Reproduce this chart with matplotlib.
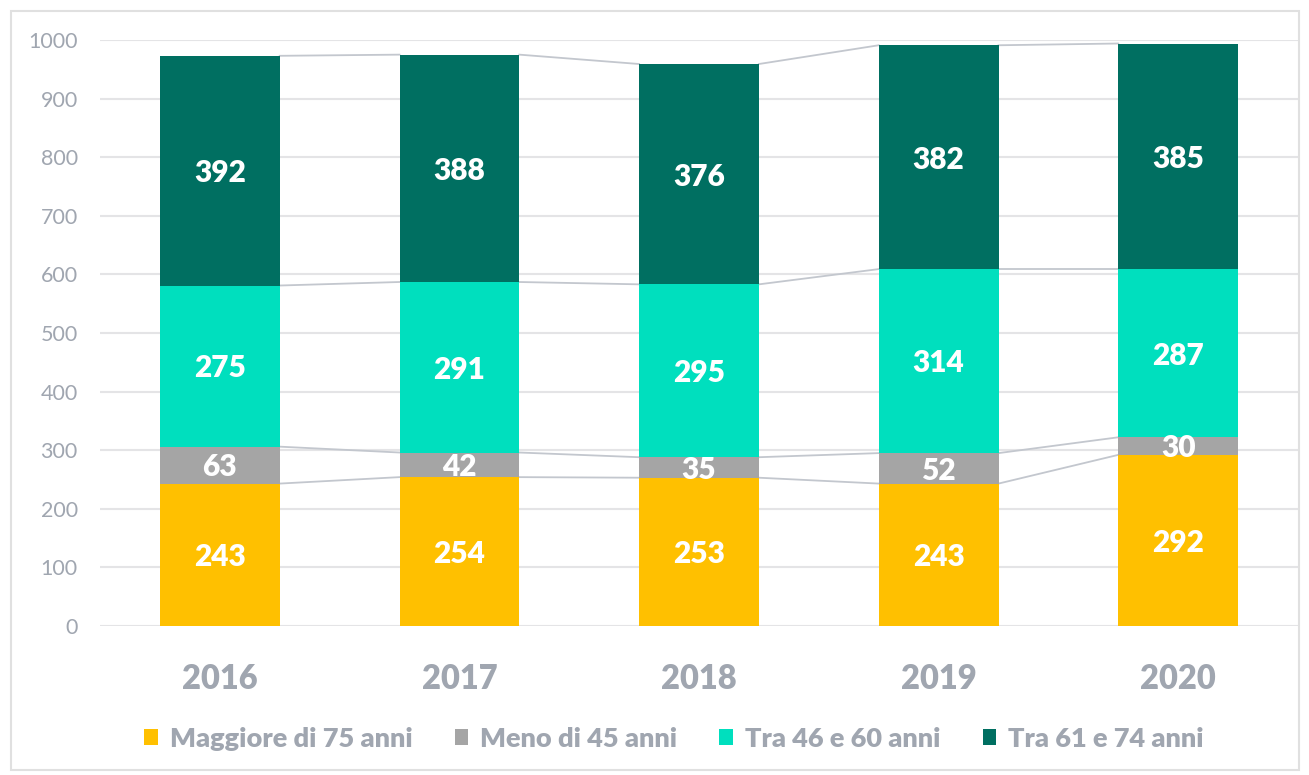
import matplotlib.pyplot as plt
from matplotlib.patches import Rectangle
import numpy as np

years = ["2016", "2017", "2018", "2019", "2020"]
series_names = ["Maggiore di 75 anni", "Meno di 45 anni", "Tra 46 e 60 anni", "Tra 61 e 74 anni"]
maggiore_75 = [243, 254, 253, 243, 292]
meno_45 = [63, 42, 35, 52, 30]
tra_46_60 = [275, 291, 295, 314, 287]
tra_61_74 = [392, 388, 376, 382, 385]
colors = ["#FFC000", "#A5A5A5", "#00DFBE", "#006F61"]

plt.rcParams["font.family"] = ["Lato", "DejaVu Sans"]
grey_txt = "#A0A6B0"

fig = plt.figure(figsize=(13.09, 7.75), dpi=100)
ax = fig.add_axes([0.0764, 0.1923, 0.9152, 0.7561])

x = np.arange(len(years))
width = 0.5
bottom = np.zeros(len(years))
tops = []
handles = []
for vals, col, name in zip([maggiore_75, meno_45, tra_46_60, tra_61_74], colors, series_names):
    vals = np.array(vals, dtype=float)
    b = ax.bar(x, vals, width, bottom=bottom, color=col, label=name, zorder=3)
    handles.append(b)
    for xi, v, bt in zip(x, vals, bottom):
        ax.text(xi, bt + v / 2 - 4, f"{int(v)}", ha="center", va="center",
                color="white", fontsize=21.5, fontweight="heavy", zorder=4)
    bottom = bottom + vals
    tops.append(bottom.copy())

# series lines between bars
for t in tops:
    for i in range(len(years) - 1):
        ax.plot([x[i] + width / 2, x[i + 1] - width / 2], [t[i], t[i + 1]],
                color="#C3C7CE", lw=1.3, zorder=2)

ax.set_xlim(-0.5, len(years) - 0.5)
ax.set_ylim(0, 1000)
ax.set_yticks(range(0, 1001, 100))
ax.set_xticks(x)
ax.set_xticklabels(years, fontsize=23.5, fontweight="heavy", color=grey_txt)
ax.tick_params(axis="x", length=0, pad=27)
ax.tick_params(axis="y", length=0, pad=16, labelsize=15.5, labelcolor=grey_txt)
ax.grid(axis="y", color="#E4E4E6", lw=1.5, zorder=0)
for s in ax.spines.values():
    s.set_visible(False)

fig.legend(handles=handles, labels=series_names, loc="center", ncol=4,
           bbox_to_anchor=(0.515, 0.047), frameon=False, handlelength=0.5,
           handleheight=0.5, handletextpad=0.45, columnspacing=1.55,
           prop={"size": 19.5, "weight": "heavy"}, labelcolor=grey_txt)

fig.patches.append(Rectangle((11 / 1309, 5 / 775), 1288 / 1309, 759 / 775,
                             transform=fig.transFigure, fill=False,
                             edgecolor="#E0E0E0", lw=1.5))

fig.savefig("out.png")
